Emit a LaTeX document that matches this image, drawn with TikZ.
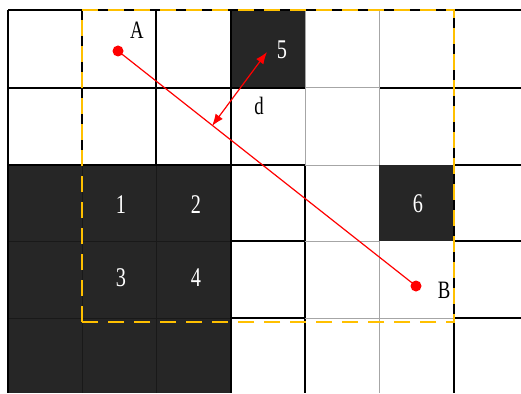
\documentclass[tikz,border=0pt]{standalone}
\usepackage{fontspec}
\setmainfont{Liberation Serif}
\usetikzlibrary{arrows.meta}
\definecolor{darkcell}{HTML}{262626}
\definecolor{boxyellow}{HTML}{FFC000}
\newcommand{\narrow}[1]{\scalebox{0.75}[1]{#1}}
\tikzset{
  px/.style={x=1pt,y=-1pt},
  gridline/.style={black,line width=1.2pt},
  greyline/.style={gray!70,line width=1pt},
  innerline/.style={black!90,line width=0.6pt},
  numlabel/.style={white,inner sep=0pt,font=\fontsize{27}{27}\selectfont},
  ptlabel/.style={black,inner sep=0pt,font=\fontsize{25}{25}\selectfont},
  redline/.style={red,line width=1.2pt},
  reddot/.style={circle,fill=red,inner sep=0pt,minimum size=11pt},
  dashbox/.style={boxyellow,line width=2.2pt,dash pattern=on 16pt off 10pt}
}
\begin{document}
\begin{tikzpicture}[px]
\useasboundingbox (0,0) rectangle (521,393);
\fill[white] (0,0) rectangle (521,393);
% dark cells
\fill[darkcell] (8,165) rectangle (231,393);
\fill[darkcell] (231,10) rectangle (305,88);
\fill[darkcell] (379,165) rectangle (454,241);
% inner lines of dark region
\draw[innerline] (82,165) -- (82,393) (156,165) -- (156,393)
  (8,241) -- (231,241) (8,318) -- (231,318);
% black grid lines
\draw[gridline] (8,10) -- (8,393);
\draw[gridline] (8,10) -- (521,10);
\draw[gridline] (8,88) -- (305,88) (379,88) -- (521,88);
\draw[gridline] (8,165) -- (305,165) (454,165) -- (521,165);
\draw[gridline] (231,241) -- (305,241) (454,241) -- (521,241);
\draw[gridline] (231,318) -- (305,318) (454,318) -- (521,318);
\draw[gridline] (82,10) -- (82,165);
\draw[gridline] (156,10) -- (156,165);
\draw[gridline] (231,10) -- (231,393);
\draw[gridline] (305,165) -- (305,393);
\draw[gridline] (454,10) -- (454,393);
% grey grid lines
\draw[greyline] (305,10) -- (305,165);
\draw[greyline] (379,10) -- (379,165) (379,241) -- (379,393);
\draw[greyline] (305,88) -- (379,88);
\draw[greyline] (305,165) -- (379,165);
\draw[greyline] (305,241) -- (379,241) (305,318) -- (454,318);
% yellow dashed box
\draw[dashbox] (82,322) -- (82,10) -- (454,10) -- (454,322) -- cycle;
% cell numbers
\node[numlabel] (n1) at (121,205) {\narrow{1}};
\node[numlabel] (n2) at (196,205) {\narrow{2}};
\node[numlabel] (n3) at (121,278) {\narrow{3}};
\node[numlabel] (n4) at (196,278) {\narrow{4}};
\node[numlabel] (n5) at (282,50) {\narrow{5}};
\node[numlabel] (n6) at (418,204) {\narrow{6}};
% points
\node[reddot] (A) at (118,51) {};
\node[reddot] (B) at (416,286) {};
\node[ptlabel] (la) at (137,30) {\narrow{A}};
\node[ptlabel] (lb) at (444,290) {\narrow{B}};
\draw[redline] (A.center) -- (B.center);
% distance arrow
\coordinate (d1) at (267,52);
\coordinate (d2) at (212,126);
\draw[redline,{Latex[length=12pt,width=9pt]}-{Latex[length=12pt,width=9pt]}] (d2) -- (d1);
\node[ptlabel] (ld) at (259,106) {\narrow{d}};
\end{tikzpicture}
\end{document}
